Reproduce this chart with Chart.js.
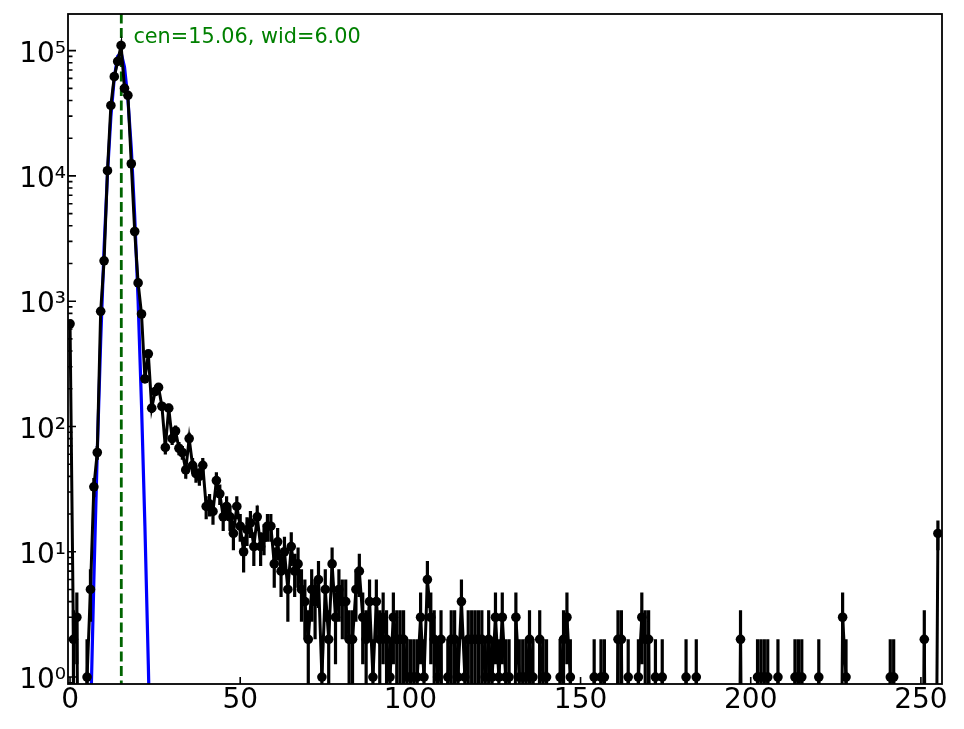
<!DOCTYPE html>
<html><head><meta charset="utf-8">
<script src="https://cdn.jsdelivr.net/npm/chart.js@4.4.0/dist/chart.umd.min.js"></script>
<style>html,body{margin:0;padding:0;background:#fff;}#wrap{width:964px;height:729px;}</style>
</head><body><div id="wrap"><canvas id="c" width="964" height="729"></canvas></div>
<script>
// ---- data ----
const counts = [
  660, 2, 3, 0, 0, 1, 5, 33, 62, 830,
  2100, 11000, 36500, 62000, 82000, 110000, 50000, 44000, 12500, 3600,
  1400, 790, 240, 380, 140, 190, 205, 145, 68, 140,
  80, 92, 67, 62, 45, 80, 49, 42, 40, 49,
  23, 24, 21, 37, 29, 19, 23, 19, 14, 23,
  16, 10, 15, 17, 11, 19, 11, 13, 16, 16,
  8, 12, 7, 10, 5, 11, 7, 8, 5, 4,
  2, 5, 4, 6, 1, 5, 2, 8, 3, 5,
  4, 4, 2, 2, 5, 7, 3, 2, 4, 1,
  4, 2, 3, 2, 1, 3, 2, 2, 2, 1,
  1, 1, 1, 3, 1, 6, 3, 2, 1, 2,
  0, 1, 2, 2, 1, 4, 1, 2, 2, 2,
  2, 2, 1, 2, 1, 3, 1, 3, 1, 1,
  0, 3, 1, 1, 1, 2, 1, 0, 2, 1,
  1, 0, 0, 0, 1, 2, 3, 1, 0, 0,
  0, 0, 0, 0, 1, 0, 1, 1, 0, 0,
  0, 2, 2, 0, 1, 0, 0, 1, 3, 2,
  2, 0, 1, 0, 1, 0, 0, 0, 0, 0,
  0, 1, 0, 0, 1, 0, 0, 0, 0, 0,
  0, 0, 0, 0, 0, 0, 0, 2, 0, 0,
  0, 0, 1, 1, 1, 1, 0, 0, 1, 0,
  0, 0, 0, 1, 1, 1, 0, 0, 0, 0,
  1, 0, 0, 0, 0, 0, 0, 3, 1, 0,
  0, 0, 0, 0, 0, 0, 0, 0, 0, 0,
  0, 1, 1, 0, 0, 0, 0, 0, 0, 0,
  0, 2, 0, 0, 0, 14
];
const fitX = [5, 6, 7, 8, 9, 10, 11, 12, 13, 14, 15, 16, 17, 18, 19, 20, 21, 22, 23, 24];
const fitY = [0.02, 0.42, 6, 63, 480, 2650, 10400, 29700, 61000, 90200, 96300, 74100, 41200, 16500, 4760, 1000, 148, 16, 1.26, 0.07];
const cen = 15.06;
const wid = 6.00;
const xTicks = [0, 50, 100, 150, 200, 250];
const yTicks = [1, 10, 100, 1000, 10000, 100000];
const yTickLabels = ['10\u2070', '10\u00b9', '10\u00b2', '10\u00b3', '10\u2074', '10\u2075'];

// ---- build library structures ----
const FLOOR = 1e-3; // non-positive values are pushed far below the axis (log clipping)
const pts = counts.map((c, i) => ({x: i, y: c > 0 ? c : FLOOR}));
const errPts = [];
counts.forEach((c, i) => {
  if (c > 0) {
    const e = Math.sqrt(c);
    errPts.push({x: i, y: Math.max(c - e, FLOOR)});
    errPts.push({x: i, y: c + e});
    errPts.push({x: i, y: null});
  }
});
const fitPts = fitX.map((x, i) => ({x: x, y: fitY[i]}));
const vline = [{x: cen, y: FLOOR}, {x: cen, y: 1e7}];

const FONT = 'DejaVu Sans';

const framePlugin = {
  id: 'frame',
  afterDatasetsDraw(chart) {
    const {ctx, chartArea: a, scales: {x, y}} = chart;
    ctx.save();
    ctx.strokeStyle = '#000';
    ctx.lineWidth = 1.6;
    ctx.beginPath();
    xTicks.forEach(v => { const px = x.getPixelForValue(v); ctx.moveTo(px, a.bottom); ctx.lineTo(px, a.bottom - 7); });
    for (let d = -1; d <= 5; d++) {
      for (let k = 1; k <= 9; k++) {
        const v = k * Math.pow(10, d);
        if (v < y.min || v > y.max) continue;
        const py = y.getPixelForValue(v);
        ctx.moveTo(a.left, py); ctx.lineTo(a.left + (k === 1 ? 8 : 4.5), py);
      }
    }
    ctx.stroke();
    ctx.lineWidth = 1.8;
    ctx.strokeRect(a.left, a.top, a.right - a.left, a.bottom - a.top);
    ctx.fillStyle = '#008000';
    ctx.font = '20.8px "' + FONT + '"';
    ctx.textBaseline = 'alphabetic';
    ctx.textAlign = 'left';
    ctx.fillText('cen=' + cen.toFixed(2) + ', wid=' + wid.toFixed(2), x.getPixelForValue(cen + 3.55), a.top + 29.3);
    ctx.restore();
  }
};

new Chart(document.getElementById('c'), {
  type: 'line',
  data: {
    datasets: [
      {data: pts, borderColor: '#000', borderWidth: 3, pointRadius: 4.8, pointBackgroundColor: '#000', pointBorderWidth: 0, pointHoverRadius: 0, fill: false, tension: 0},
      {data: errPts, borderColor: '#000', borderWidth: 3.2, pointRadius: 0, fill: false, spanGaps: false, borderCapStyle: 'butt'},
      {data: vline, borderColor: '#006400', borderWidth: 2.8, borderDash: [10, 4.5], pointRadius: 0, fill: false},
      {data: fitPts, borderColor: '#0000ff', borderWidth: 3.2, pointRadius: 0, fill: false, tension: 0}
    ]
  },
  options: {
    responsive: false,
    animation: false,
    devicePixelRatio: 1,
    events: [],
    layout: {padding: {left: 0, right: 22, top: 14, bottom: 0}},
    plugins: {legend: {display: false}, tooltip: {enabled: false}},
    scales: {
      x: {
        type: 'linear', min: -0.6, max: 256.2, position: 'bottom',
        grid: {display: false, drawTicks: false},
        border: {display: false},
        ticks: {font: {family: FONT, size: 28}, color: '#000', padding: 0, maxRotation: 0, autoSkip: false},
        afterBuildTicks: s => { s.ticks = xTicks.map(v => ({value: v})); },
        afterFit: s => { s.height = 45; s.paddingLeft = 0; s.paddingRight = 0; }
      },
      y: {
        type: 'logarithmic', min: 0.88, max: 1.96e5, position: 'left',
        grid: {display: false, drawTicks: false},
        border: {display: false},
        ticks: {
          font: {family: FONT, size: 28}, color: '#000', padding: 2, labelOffset: 4, autoSkip: false,
          callback: v => { const i = yTicks.indexOf(v); return i >= 0 ? yTickLabels[i] : ''; }
        },
        afterBuildTicks: s => { s.ticks = yTicks.map(v => ({value: v})); },
        afterFit: s => { s.width = 68; s.paddingTop = 0; s.paddingBottom = 0; }
      }
    }
  },
  plugins: [framePlugin]
});
</script></body></html>
